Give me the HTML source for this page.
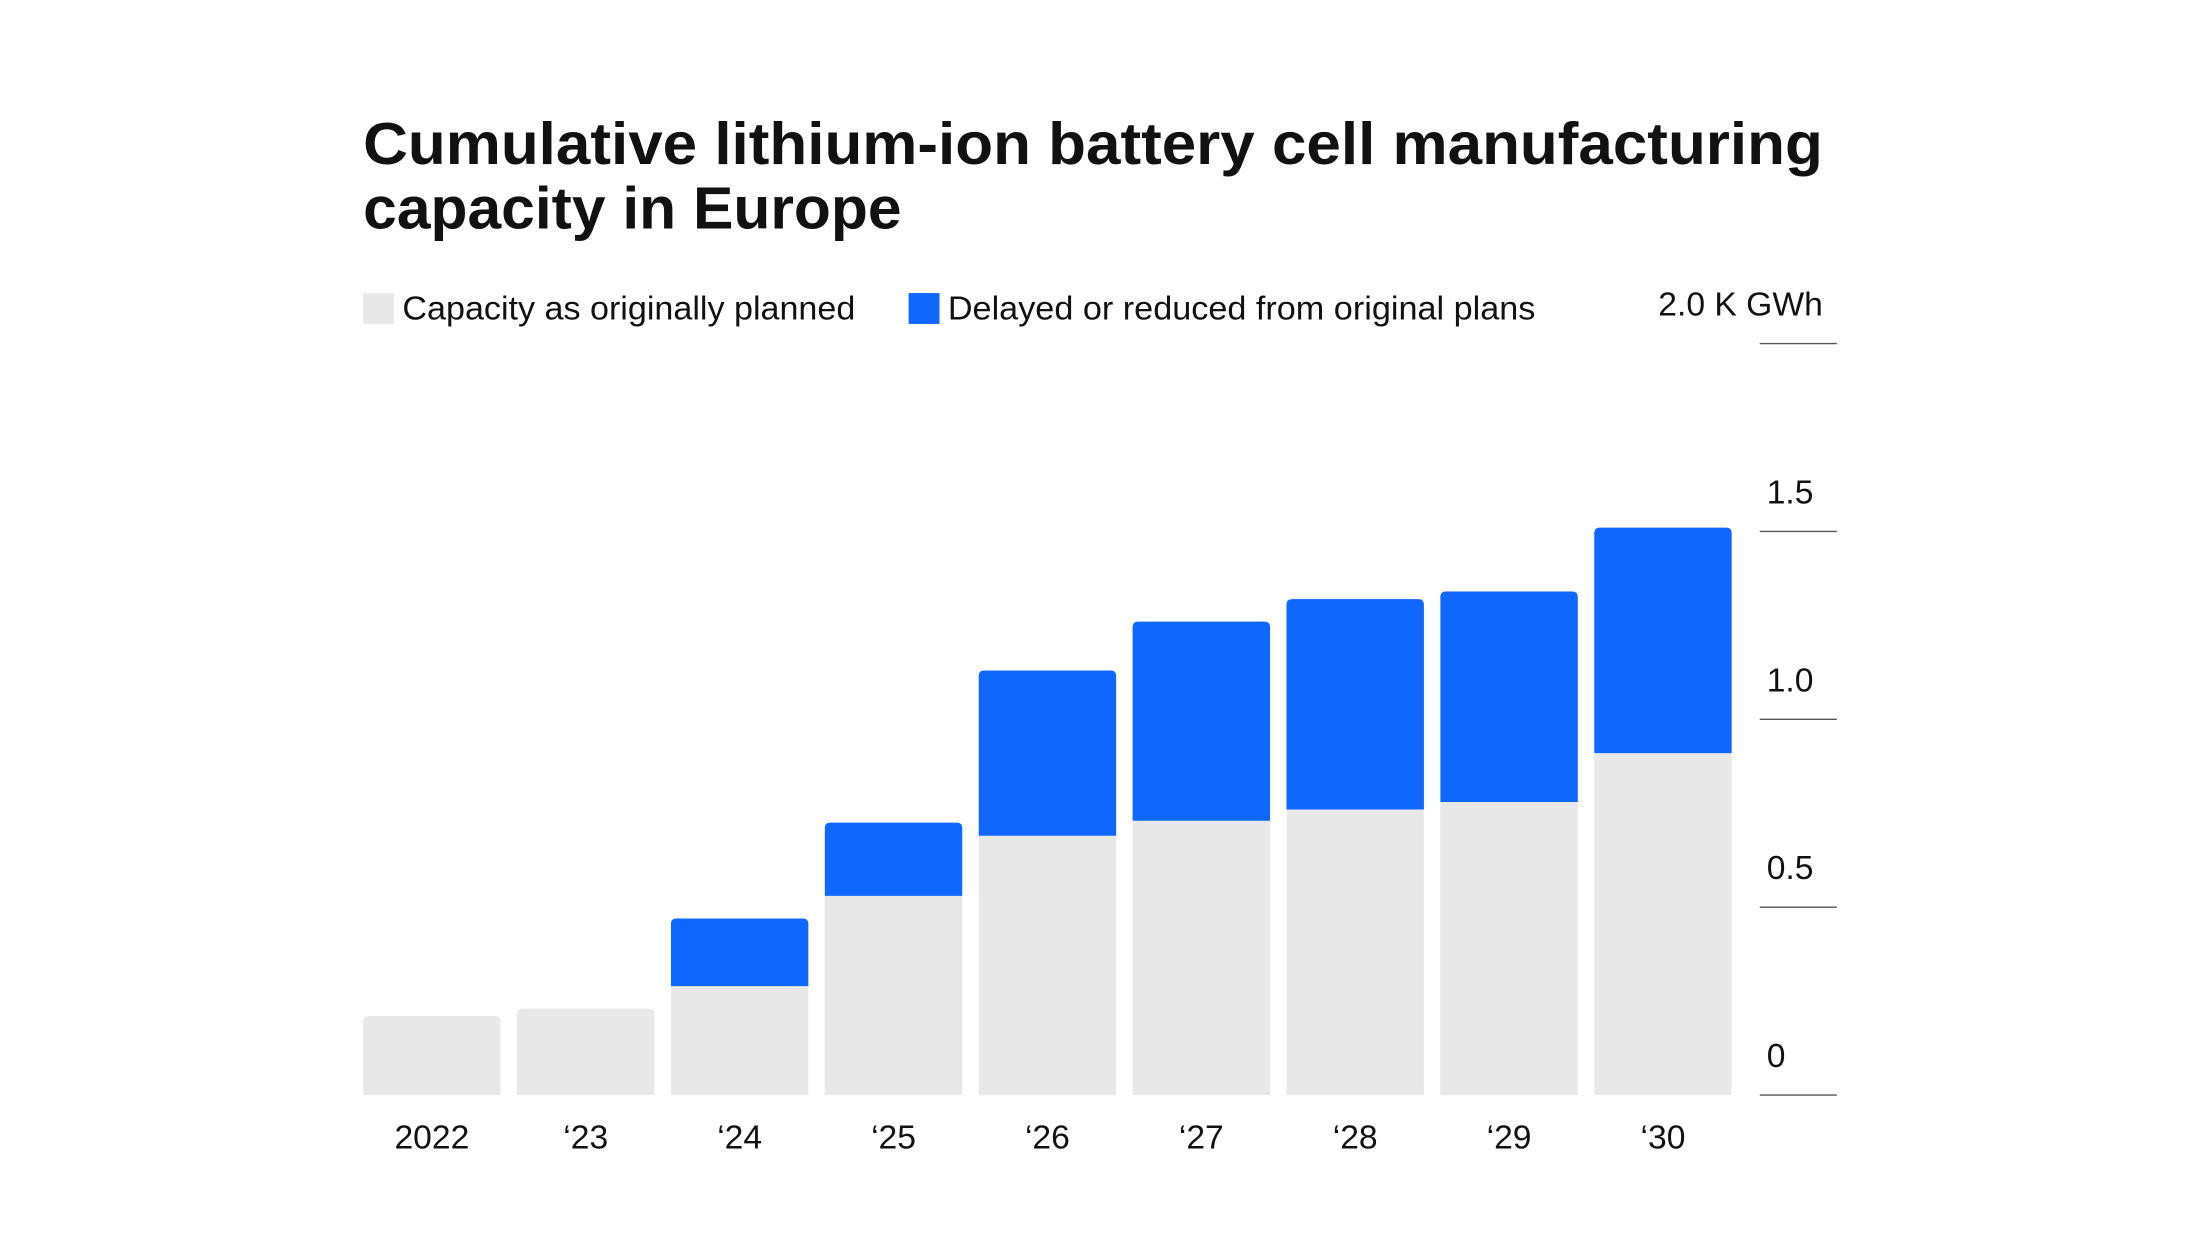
<!DOCTYPE html>
<html><head><meta charset="utf-8"><style>
html,body{margin:0;padding:0;background:#fff;}
svg{display:block;font-family:"Liberation Sans",sans-serif;}
</style></head><body>
<svg id="chart" width="2200" height="1237" viewBox="0 0 1569 882.2" xmlns="http://www.w3.org/2000/svg">
<rect width="1569" height="882.2" fill="#fff"/>
<text x="259" y="117" font-size="42" font-weight="bold" fill="#111" textLength="1041" lengthAdjust="spacingAndGlyphs">Cumulative lithium-ion battery cell manufacturing</text>
<text x="259" y="163" font-size="42" font-weight="bold" fill="#111" textLength="384" lengthAdjust="spacingAndGlyphs">capacity in Europe</text>
<g>
<rect x="259" y="209" width="22" height="22" fill="#e8e8e8"/>
<text x="287" y="228" font-size="24" fill="#111" textLength="323" lengthAdjust="spacingAndGlyphs">Capacity as originally planned</text>
<rect x="648" y="209" width="22" height="22" fill="#0f67fe"/>
<text x="676" y="228" font-size="24" fill="#111" textLength="419" lengthAdjust="spacingAndGlyphs">Delayed or reduced from original plans</text>
</g>
<g id="yaxis"></g>
<g id="bars"></g>
<g id="xaxis"></g>
</svg>
<script>
const categories = ["2022","\u201823","\u201824","\u201825","\u201826","\u201827","\u201828","\u201829","\u201830"];
const planned = [0.21,0.23,0.29,0.53,0.69,0.73,0.76,0.78,0.91];
const delayed = [0,0,0.18,0.195,0.44,0.53,0.56,0.56,0.60];
const tickValues = [0,0.5,1.0,1.5,2.0];
const tickLabels = ["0","0.5","1.0","1.5","2.0 K GWh"];

const NS="http://www.w3.org/2000/svg";
const y0=781, pxPerUnit=268;
function yScale(v){return y0 - v*pxPerUnit;}
const barX0=259, step=109.75, barW=98;
function xScale(i){return barX0 + i*step;}
function mk(tag,attrs,parent){const e=document.createElementNS(NS,tag);for(const k in attrs)e.setAttribute(k,attrs[k]);parent.appendChild(e);return e;}
function topRounded(x,yt,w,yb,r){
  r=Math.min(r,(yb-yt));
  return `M${x},${yb}V${yt+r}Q${x},${yt} ${x+r},${yt}H${x+w-r}Q${x+w},${yt} ${x+w},${yt+r}V${yb}Z`;
}
const yaxis=document.getElementById('yaxis');
tickValues.forEach((v,i)=>{
  const yy=yScale(v);
  const l=mk('line',{x1:1255,x2:1310,y1:yy,y2:yy,stroke:'#555','stroke-width':1},yaxis);
  
  
  const last=i===tickValues.length-1;
  const t=mk('text',{x:last?1300:1260,y:yy-20,'font-size':24,fill:'#111','text-anchor':last?'end':'start'},yaxis);
  t.textContent=tickLabels[i];
  
  
});
const bars=document.getElementById('bars');
const xaxis=document.getElementById('xaxis');
categories.forEach((c,i)=>{
  const x=xScale(i);
  const total=planned[i]+delayed[i];
  const hasBlue=delayed[i]>0;
  const g=mk('path',{d:hasBlue?`M${x},${y0}V${yScale(planned[i])}H${x+barW}V${y0}Z`:topRounded(x,yScale(planned[i]),barW,y0,4),fill:'#e8e8e8'},bars);
  
  
  if(hasBlue){
    const b=mk('path',{d:topRounded(x,yScale(total),barW,yScale(planned[i]),4),fill:'#0f67fe'},bars);
    
    
  }
  const t=mk('text',{x:x+barW/2,y:819,'font-size':24,fill:'#111','text-anchor':'middle'},xaxis);
  t.textContent=c;
  
  
});
</script>
</body></html>
